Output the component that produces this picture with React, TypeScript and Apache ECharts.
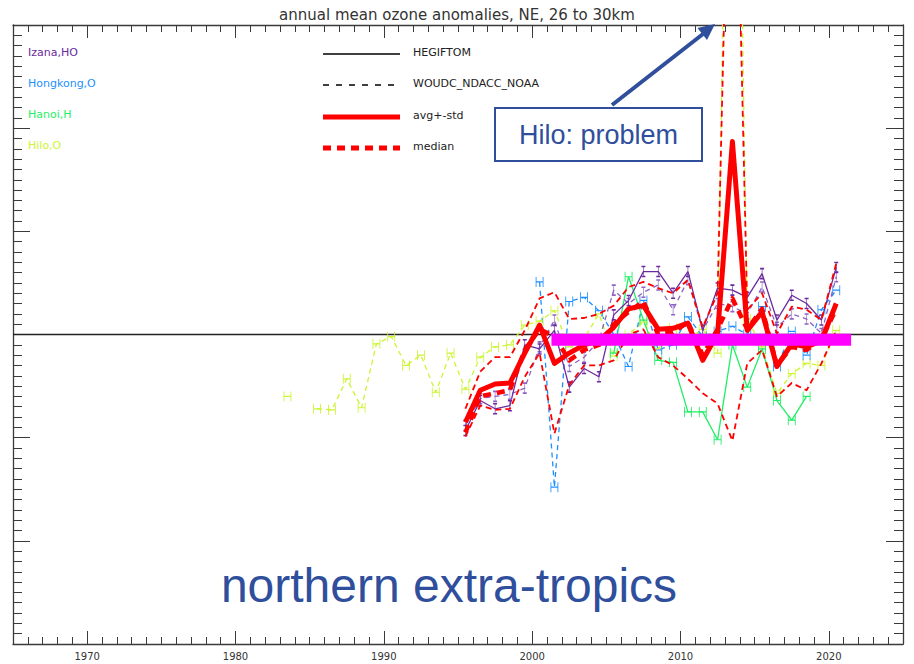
import React, { useEffect, useRef } from 'react';
import * as echarts from 'echarts';

const TITLE = 'annual mean ozone anomalies, NE, 26 to 30km';
const REGION_LABEL = 'northern extra-tropics';
const NOTE_LABEL = 'Hilo: problem';

const X_MIN = 1965;
const X_MAX = 2025;
const Y_MIN = -3;
const Y_MAX = 3;
const MID_YEAR = 0.5;
const decadeTicks = [1970, 1980, 1990, 2000, 2010, 2020];

// Hilo (WOUDC, dashed)
const hiloYears = [1983, 1984, 1985, 1986, 1987, 1988, 1989, 1990, 1991, 1992, 1993, 1994,
  1995, 1996, 1997, 1998, 1999, 2000, 2001, 2002, 2003, 2004, 2005, 2006, 2007, 2008, 2009,
  2010, 2011, 2012, 2013, 2014, 2015, 2016, 2017, 2018, 2019, 2020];
const hiloValues = [-0.60, null, -0.72, -0.73, -0.43, -0.71, -0.09, -0.02, -0.30, -0.20, -0.56, -0.18,
  -0.53, -0.22, -0.12, -0.10, 0.09, 0.13, 0.23, -0.12, -0.04, 0.20, -0.21, 0.00, 0.12, -0.14, 0.06,
  -0.04, 0.05, -0.18, 9.0, 0.15, -0.12, -0.57, -0.38, -0.28, -0.30, 0.04];

// Izana + statistics years
const mainYears = [1995, 1996, 1997, 1998, 1999, 2000, 2001, 2002, 2003, 2004, 2005, 2006, 2007,
  2008, 2009, 2010, 2011, 2012, 2013, 2014, 2015, 2016, 2017, 2018, 2019, 2020];
const izanaHegiftom = [-0.93, -0.64, -0.72, -0.69, -0.10, -0.14, 0.04, -0.51, -0.33, -0.41, 0.19, 0.33, 0.61,
  0.61, 0.40, 0.61, 0.04, 0.45, 0.43, 0.36, 0.59, 0.14, 0.38, 0.30, 0.14, 0.65];
const izanaWoudc = [-0.88, -0.62, -0.60, -0.58, -0.52, -0.12, 0.14, -0.31, -0.22, -0.06, 0.43, 0.30, 0.41,
  0.48, 0.24, 0.53, 0.04, 0.30, 0.27, 0.20, 0.46, 0.07, 0.20, 0.15, 0.01, 0.56];
const avgValues = [-0.85, -0.54, -0.48, -0.47, -0.18, 0.09, -0.28, -0.18, -0.10, -0.06, 0.07, 0.25, 0.28,
  0.05, 0.06, 0.11, -0.25, 0.01, 1.87, 0.04, 0.22, -0.31, -0.09, -0.12, -0.06, 0.30];
const avgPlusStd = [-0.72, -0.36, -0.22, -0.22, 0.04, 0.35, 0.41, 0.15, 0.16, 0.20, 0.28, 0.46, 0.51,
  0.45, 0.40, 0.53, 0.07, 0.40, 6.5, 0.24, 0.40, 0.01, 0.27, 0.24, 0.14, 0.69];
const avgMinusStd = [-0.99, -0.69, -0.73, -0.72, -0.41, -0.18, -0.96, -0.49, -0.30, -0.30, -0.25, 0.00, 0.05,
  -0.22, -0.30, -0.43, -0.57, -0.67, -1.03, -0.28, -0.15, -0.60, -0.47, -0.54, -0.28, 0.04];
const medianValues = [-0.95, -0.60, -0.57, -0.54, -0.15, 0.05, -0.02, -0.25, -0.15, -0.10, 0.10, 0.22, 0.32,
  0.00, 0.02, 0.12, -0.20, 0.05, 0.35, 0.05, 0.25, -0.30, -0.12, -0.15, -0.05, 0.25];

// Hongkong (WOUDC, dashed)
const hongkongYears = [2000, 2001, 2002, 2003, 2004, 2005, 2006, 2007, 2008, 2009, 2010, 2011, 2012,
  2013, 2014, 2015, 2016, 2017, 2018, 2019, 2020];
const hongkongValues = [0.51, -1.48, 0.32, 0.36, 0.23, 0.00, -0.31, 0.33, -0.15, -0.10, 0.17, -0.02, 0.03,
  0.08, 0.00, 0.27, -0.31, 0.03, -0.20, 0.24, 0.43];

// Hanoi (HEGIFTOM, solid)
const hanoiYears = [2005, 2006, 2007, 2008, 2009, 2010, 2011, 2012, 2013, 2014, 2015, 2016, 2017, 2018];
const hanoiValues = [-0.18, 0.56, 0.14, -0.25, -0.27, -0.75, -0.75, -1.02, -0.10, -0.51, -0.14, -0.64, -0.83, -0.60];

// highlighted reference bar
const problemYears = [2001.3, 2021.5];
const problemLevel = -0.05;
const zeroLineYears = [X_MIN, X_MAX];

const COLORS = {
  izana: '#6B2A9E',
  izanaDash: '#8E63C4',
  hongkong: '#1E8FFF',
  hanoi: '#1FEE66',
  hilo: '#CCF533',
  red: '#FF0000',
  magenta: '#FF00FF',
  note: '#2F4E9C',
  axis: '#3a3a3a',
};

const stationLegend = [
  { name: 'Izana,HO', color: COLORS.izana },
  { name: 'Hongkong,O', color: COLORS.hongkong },
  { name: 'Hanoi,H', color: COLORS.hanoi },
  { name: 'Hilo,O', color: COLORS.hilo },
];
const sourceLegend = [
  { name: 'HEGIFTOM', color: '#000', width: 1.5, dash: null },
  { name: 'WOUDC_NDACC_NOAA', color: '#000', width: 1.3, dash: [6, 7] },
  { name: 'avg+-std', color: COLORS.red, width: 5, dash: null },
  { name: 'median', color: COLORS.red, width: 5, dash: [8, 6] },
];

const GLYPH_H = 'path://M0 0V10M6 0V10M0 5H6';
const GLYPH_I = 'path://M0 0H4M2 0V10M0 10H4';

const toData = (years: number[], vals: (number | null)[]) =>
  years.map((y, i) => [y + MID_YEAR, vals[i] == null ? '-' : vals[i]]);

function stationSeries(years: number[], vals: (number | null)[], color: string, dashed: boolean, glyph: string, z: number) {
  return {
    type: 'line',
    data: toData(years, vals),
    symbol: glyph,
    symbolSize: glyph === GLYPH_I ? [4, 10] : [7, 10],
    showSymbol: true,
    showAllSymbol: true,
    connectNulls: false,
    clip: true,
    silent: true,
    z,
    itemStyle: { color, borderColor: color, borderWidth: 1 },
    lineStyle: { color, width: 1.3, type: dashed ? [5, 4] : 'solid' },
  };
}

function redSeries(vals: number[], width: number, dash: number[] | null, z: number) {
  return {
    type: 'line',
    data: toData(mainYears, vals),
    symbol: 'none',
    clip: true,
    silent: true,
    z,
    lineStyle: { color: COLORS.red, width, type: dash || 'solid', cap: 'butt', join: 'round' },
  };
}

function xAxisMinor(position: string) {
  return {
    type: 'value', position, min: X_MIN, max: X_MAX, interval: 1,
    axisLine: { show: true, onZero: false, lineStyle: { color: COLORS.axis, width: 1.3 } },
    axisTick: { show: true, inside: true, length: 7, lineStyle: { color: COLORS.axis, width: 1 } },
    axisLabel: { show: false },
    splitLine: { show: false },
  };
}
function xAxisMajor(position: string, labels: boolean) {
  return {
    type: 'value', position, min: X_MIN, max: X_MAX,
    axisLine: { show: false, onZero: false },
    axisTick: { show: true, inside: true, length: 13, customValues: decadeTicks, lineStyle: { color: COLORS.axis, width: 1 } },
    axisLabel: {
      show: labels, customValues: decadeTicks, margin: 7, color: '#333',
      fontSize: 10, fontFamily: 'DejaVu Sans',
      formatter: (v: number) => String(v),
    },
    splitLine: { show: false },
  };
}
function yAxisDef(position: string) {
  return {
    type: 'value', position, min: Y_MIN, max: Y_MAX, interval: 1,
    axisLine: { show: true, onZero: false, lineStyle: { color: COLORS.axis, width: 1.3 } },
    axisTick: { show: true, inside: true, length: 17, lineStyle: { color: COLORS.axis, width: 1 } },
    minorTick: { show: true, splitNumber: 10, length: 9, lineStyle: { color: COLORS.axis, width: 1 } },
    axisLabel: { show: false },
    splitLine: { show: false },
  };
}

function buildGraphics() {
  const els: any[] = [];
  els.push({
    type: 'text', x: 457, y: 15, z: 100,
    style: { text: TITLE, fill: '#333', fontSize: 15, fontFamily: 'DejaVu Sans', align: 'center', verticalAlign: 'middle', textAlign: 'center', textVerticalAlign: 'middle' },
  });
  stationLegend.forEach((s, i) => {
    els.push({
      type: 'text', x: 28, y: 52 + i * 31, z: 100,
      style: { text: s.name, fill: s.color, fontSize: 11, fontFamily: 'DejaVu Sans', align: 'left', verticalAlign: 'middle', textAlign: 'left', textVerticalAlign: 'middle' },
    });
  });
  sourceLegend.forEach((s, i) => {
    const ly = [54, 85, 117, 148][i];
    els.push({
      type: 'line', z: 100,
      shape: { x1: 323, y1: ly, x2: 400, y2: ly },
      style: { stroke: s.color, lineWidth: s.width, lineDash: s.dash || undefined, lineCap: 'butt' },
    });
    els.push({
      type: 'text', x: 413, y: ly - 2, z: 100,
      style: { text: s.name, fill: '#222', fontSize: 11, fontFamily: 'DejaVu Sans', align: 'left', verticalAlign: 'middle', textAlign: 'left', textVerticalAlign: 'middle' },
    });
  });
  // annotation box
  els.push({
    type: 'rect', z: 100,
    shape: { x: 495, y: 108, width: 207, height: 53 },
    style: { fill: '#fff', stroke: COLORS.note, lineWidth: 2 },
  });
  els.push({
    type: 'text', x: 598.5, y: 135, z: 101,
    style: { text: NOTE_LABEL, fill: COLORS.note, fontSize: 27, fontFamily: 'Liberation Sans', align: 'center', verticalAlign: 'middle', textAlign: 'center', textVerticalAlign: 'middle' },
  });
  // arrow
  els.push({
    type: 'line', z: 100,
    shape: { x1: 612, y1: 105, x2: 703, y2: 34 },
    style: { stroke: COLORS.note, lineWidth: 4 },
  });
  els.push({
    type: 'polygon', z: 100,
    shape: { points: [[715, 24], [707, 40], [697.5, 28]] },
    style: { fill: COLORS.note },
  });
  els.push({
    type: 'text', x: 449, y: 585, z: 100,
    style: { text: REGION_LABEL, fill: COLORS.note, fontSize: 48, fontFamily: 'Liberation Sans', align: 'center', verticalAlign: 'middle', textAlign: 'center', textVerticalAlign: 'middle' },
  });
  return els;
}

export default function App() {
  const ref = useRef<HTMLDivElement>(null);
  useEffect(() => {
    if (!ref.current) return;
    const chart = echarts.init(ref.current, null, { renderer: 'svg' });
    const option: any = {
      animation: false,
      backgroundColor: '#fff',
      grid: { left: 13, right: 11, top: 25, bottom: 20, containLabel: false },
      xAxis: [xAxisMinor('bottom'), xAxisMajor('bottom', true), xAxisMinor('top'), xAxisMajor('top', false)],
      yAxis: [yAxisDef('left'), yAxisDef('right')],
      series: [
        {
          type: 'line', data: zeroLineYears.map((y) => [y, 0]), symbol: 'none', silent: true, z: 1,
          lineStyle: { color: '#222', width: 1.3 },
        },
        stationSeries(hiloYears, hiloValues, COLORS.hilo, true, GLYPH_H, 2),
        stationSeries(hongkongYears, hongkongValues, COLORS.hongkong, true, GLYPH_H, 2),
        stationSeries(hanoiYears, hanoiValues, COLORS.hanoi, false, GLYPH_H, 2),
        stationSeries(mainYears, izanaWoudc, COLORS.izanaDash, true, GLYPH_I, 3),
        stationSeries(mainYears, izanaHegiftom, COLORS.izana, false, GLYPH_I, 3),
        redSeries(avgPlusStd, 1.8, [6, 4], 4),
        redSeries(avgMinusStd, 1.8, [6, 4], 4),
        redSeries(medianValues, 4.5, [8, 6], 5),
        redSeries(avgValues, 5, null, 6),
        {
          type: 'line', data: problemYears.map((y) => [y, problemLevel]), symbol: 'none', silent: true, z: 10,
          lineStyle: { color: COLORS.magenta, width: 12, cap: 'butt' },
        },
      ],
      graphic: buildGraphics(),
    };
    chart.setOption(option);
    return () => chart.dispose();
  }, []);
  return (
    <div
      ref={ref}
      style={{ position: 'fixed', left: 0, top: 0, width: 914, height: 664, background: '#fff' }}
    />
  );
}
